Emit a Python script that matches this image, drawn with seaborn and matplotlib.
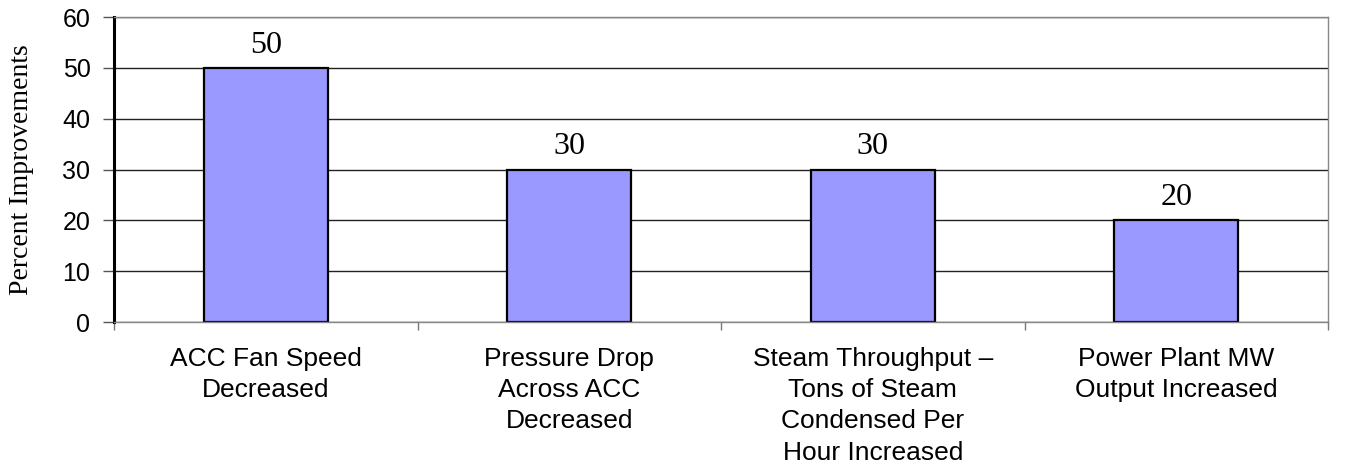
import numpy as np
import pandas as pd
import seaborn as sns
from matplotlib import pyplot as plt

# chart values
categories = ["ACC Fan Speed\nDecreased",
              "Pressure Drop\nAcross ACC\nDecreased",
              "Steam Throughput \u2013\nTons of Steam\nCondensed Per\nHour Increased",
              "Power Plant MW\nOutput Increased"]
improvements = [50, 30, 30, 20]
yticks = [0, 10, 20, 30, 40, 50, 60]

df = pd.DataFrame({"Category": categories, "Percent": improvements})

sns.set_style("white")
plt.rcParams["text.color"] = "black"
plt.rcParams["xtick.labelcolor"] = "black"
plt.rcParams["ytick.labelcolor"] = "black"
plt.rcParams["axes.labelcolor"] = "black"

fig, ax = plt.subplots(figsize=(13.59, 4.71), dpi=100)
fig.subplots_adjust(left=0.0839, right=0.9772, top=0.9639, bottom=0.3163)

# gridlines behind the bars
ax.set_axisbelow(True)
ax.yaxis.grid(True, color="#222222", linewidth=1.0)

sns.barplot(data=df, x="Category", y="Percent", color="#9999FF",
            saturation=1, width=0.41, edgecolor="black", linewidth=1.6, ax=ax)

# value labels above bars
for i, v in enumerate(improvements):
    ax.annotate(str(v), (i, v), xytext=(0, 6), textcoords="offset points",
                ha="center", va="bottom", fontsize=23, family="Liberation Serif",
                color="black")

ax.set_ylim(0, 60)
ax.set_xlim(-0.5, len(categories) - 0.5)
ax.set_yticks(yticks)
ax.set_yticklabels([str(t) for t in yticks], fontsize=18, family="Liberation Sans")
ax.tick_params(axis="y", left=True, length=8, width=1, color="#555555", pad=9)

# category labels, with ticks on the boundaries between categories
ax.set_xticks(range(len(categories)))
ax.set_xticklabels(categories, fontsize=19, family="Liberation Sans", linespacing=1.38)
ax.tick_params(axis="x", which="major", length=0, pad=18)
ax.set_xticks(np.arange(-0.5, len(categories), 1.0), minor=True)
ax.tick_params(axis="x", which="minor", bottom=True, length=6, width=1, color="#777777")

ax.set_xlabel("")
ax.set_ylabel("Percent Improvements", fontsize=20, family="Liberation Serif")
ax.yaxis.set_label_coords(-0.066, 0.5)

for side in ["top", "right", "bottom"]:
    ax.spines[side].set_visible(True)
    ax.spines[side].set_color("#888888")
    ax.spines[side].set_linewidth(1.0)
ax.spines["left"].set_color("black")
ax.spines["left"].set_linewidth(2.2)

plt.savefig("out.png", dpi=100)
